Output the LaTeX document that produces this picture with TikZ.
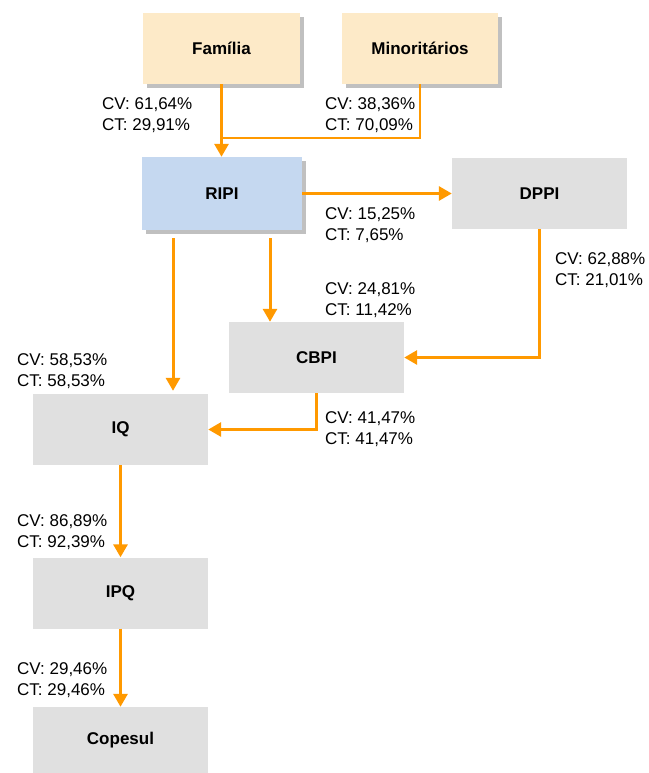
\documentclass[tikz,border=0pt]{standalone}
\usepackage{fontspec}
\setmainfont{Liberation Sans}
\usetikzlibrary{arrows.meta,shadows}
\definecolor{peach}{RGB}{253,234,200}
\definecolor{lblue}{RGB}{197,216,240}
\definecolor{boxgrey}{RGB}{224,224,224}
\definecolor{shadowgrey}{RGB}{192,192,192}
\definecolor{flow}{RGB}{255,153,0}
\begin{document}
\begin{tikzpicture}[x=1pt,y=-1pt,
  box/.style={minimum width=175pt,minimum height=71pt,inner sep=0pt,font=\fontsize{17}{20}\selectfont\bfseries},
  greybox/.style={box,fill=boxgrey},
  shbox/.style={box,drop shadow={shadow xshift=4pt,shadow yshift=-4pt,fill=shadowgrey,opacity=1}},
  arr/.style={draw=flow,line width=3pt,-{Triangle[length=13pt,width=14pt]}},
  lbl/.style={anchor=north west,inner sep=0pt,align=left,font=\fontsize{17}{21.5}\selectfont}
]
\useasboundingbox (0,0) rectangle (648,773);

% boxes
\node[shbox,fill=peach,minimum width=157pt] (fam) at (221.5,48.5) {Família};
\node[shbox,fill=peach,minimum width=156pt] (min) at (420,48.5) {Minoritários};
\node[shbox,fill=lblue,minimum width=160pt,minimum height=73pt] (ripi) at (222,193.5) {RIPI};
\node[greybox] (dppi) at (539.5,193.5) {DPPI};
\node[greybox] (cbpi) at (316.5,357.5) {CBPI};
\node[greybox] (iq) at (120.5,429.5) {IQ};
\node[greybox] (ipq) at (120.5,593) {IPQ};
\node[greybox,minimum height=66pt] (cop) at (120.5,740) {Copesul};

% helper coordinates
\coordinate (j1) at (222,138);
\coordinate (r1) at (270,238);
\coordinate (r2) at (173,238);

% connectors
\draw[arr] (fam.south) -- (fam.south |- ripi.north);
\draw[draw=flow,line width=2.6pt] (min.south) |- (j1);
\draw[arr] (ripi.east) -- (dppi.west);
\draw[arr] (r1) -- (r1 |- cbpi.north);
\draw[arr,shorten >=3pt] (r2) -- (r2 |- iq.north);
\draw[arr] (dppi.south) |- (cbpi.east);
\draw[arr] (cbpi.south) |- (iq.east);
\draw[arr] (iq.south) -- (ipq.north);
\draw[arr] (ipq.south) -- (cop.north);

% labels
\node[lbl] (l1) at (102,97) {CV: 61,64\%\\CT: 29,91\%};
\node[lbl] (l2) at (325,97) {CV: 38,36\%\\CT: 70,09\%};
\node[lbl] (l3) at (325,207) {CV: 15,25\%\\CT: 7,65\%};
\node[lbl] (l4) at (325,282) {CV: 24,81\%\\CT: 11,42\%};
\node[lbl] (l5) at (555,252) {CV: 62,88\%\\CT: 21,01\%};
\node[lbl] (l6) at (17,353) {CV: 58,53\%\\CT: 58,53\%};
\node[lbl] (l7) at (325,411) {CV: 41,47\%\\CT: 41,47\%};
\node[lbl] (l8) at (17,514) {CV: 86,89\%\\CT: 92,39\%};
\node[lbl] (l9) at (17,662) {CV: 29,46\%\\CT: 29,46\%};
\end{tikzpicture}
\end{document}
